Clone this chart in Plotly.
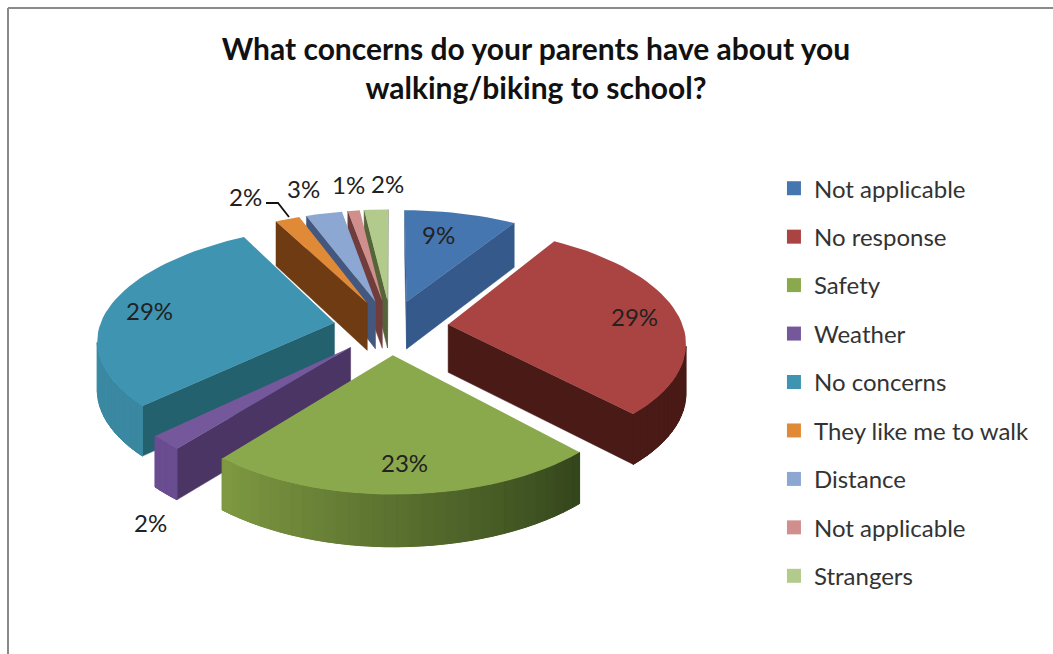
import math
import plotly.graph_objects as go

# Survey answers, in the order they run clockwise from twelve o'clock
categories = ["Not applicable", "No response", "Safety", "Weather", "No concerns",
              "They like me to walk", "Distance", "Not applicable", "Strangers"]
percent = [9, 29, 23, 2, 29, 2, 3, 1, 2]

title_lines = ["What concerns do your parents have about you", "walking/biking to school?"]

# Colours per slice: top face, rim at start angle, rim at end angle, cut faces
top_colors = ["#4676B0", "#A94442", "#8AA84C", "#75589B", "#3F95B1",
              "#E08A38", "#8CA7D2", "#D08E8D", "#B2CB8C"]
rim_end_colors = ["#34598A", "#4A1A16", "#33451B", "#6A4C90", "#3A87A0",
                  "#6E3B12", "#44587F", "#7A4848", "#5E6E3C"]
rim_start_colors = ["#34598A", "#4A1A16", "#7F9A42", "#6A4C90", "#3E90AA",
                    "#6E3B12", "#44587F", "#7A4848", "#5E6E3C"]
cut_colors = ["#34598A", "#4A1A16", "#4F6428", "#4B3565", "#24616F",
              "#6E3B12", "#44587F", "#703C3C", "#56643A"]

# Percent labels placed around the pie, in slice order
label_xy = [(438, 234), (634, 316), (404, 462), (150, 522), (149, 310),
            (245, 196), (303, 188), (348, 184), (387, 183)]

# Pie projection onto the page
CX, CY = 391, 327          # page position of the pie centre
SCALE_X, SCALE_Y = 235, 111
PERSPECTIVE = 0.141
SKEW = 6.0                 # pulls the left part of the near and far edges inward
EXPLODE = 0.245
THICKNESS = 48


def project(x, y):
    """Map a point on the pie plane (y grows toward the viewer) to the page."""
    w = 1 - PERSPECTIVE * y
    return CX + SCALE_X * x / w + SKEW * y * y * max(0.0, -x), CY + SCALE_Y * y / w


def drop(y):
    """Height of the pie edge on the page; nearer edges look slightly taller."""
    return THICKNESS * (1 + 0.07 * y)


def mix(a, b, t):
    ca = [int(a[i:i + 2], 16) for i in (1, 3, 5)]
    cb = [int(b[i:i + 2], 16) for i in (1, 3, 5)]
    return "#%02x%02x%02x" % tuple(round(p + (q - p) * t) for p, q in zip(ca, cb))


def polygon(xs, ys, color, seam=0.0):
    return go.Scatter(x=list(xs) + [xs[0]], y=list(ys) + [ys[0]], mode="lines", fill="toself",
                      fillcolor=color, line=dict(color=color, width=seam),
                      hoverinfo="skip", showlegend=False)


def slice_traces(start, end, top, rim_a, rim_b, cut):
    mid = (start + end) / 2
    ax, ay = EXPLODE * math.sin(mid), -EXPLODE * math.cos(mid)
    steps = max(4, int(math.degrees(end - start) / 2.5))
    angles = [start + (end - start) * i / steps for i in range(steps + 1)]
    rim = [(ax + math.sin(t), ay - math.cos(t)) for t in angles]
    apex = (ax, ay)

    traces = []

    def wall(p, q, color, seam):
        # The outline runs clockwise on the page, so right-to-left edges face the viewer
        (x1, y1), (x2, y2) = project(*p), project(*q)
        if x2 < x1:
            traces.append(polygon([x1, x2, x2, x1],
                                  [y1, y2, y2 + drop(q[1]), y1 + drop(p[1])], color, seam))

    wall(rim[-1], apex, cut, 0.5)
    wall(apex, rim[0], cut, 0.5)

    # Solid underlay for the rim so that the shaded strips leave no gaps between them
    front = []
    for p in rim:
        px, py = project(*p)
        front.append((px, py, py + drop(p[1])))
    visible = [k for k in range(steps) if front[k + 1][0] < front[k][0]]
    if visible:
        run = front[visible[0]:visible[-1] + 2]
        traces.append(polygon([f[0] for f in run] + [f[0] for f in reversed(run)],
                              [f[1] for f in run] + [f[2] for f in reversed(run)],
                              mix(rim_a, rim_b, 0.5), 0.5))
    for k in visible:
        color = mix(rim_a, rim_b, (steps - k - 0.5) / steps)
        wall(rim[k], rim[k + 1], color, 1.0)

    px, py = zip(*(project(*pt) for pt in [apex] + rim))
    traces.append(polygon(px, py, top))
    return traces


fig = go.Figure()

# Angular span of each slice, from the percentages
bounds = []
running = 0
for v in percent:
    a = running / sum(percent) * 2 * math.pi
    running += v
    bounds.append((a, running / sum(percent) * 2 * math.pi))

# Paint far slices first so that nearer ones sit over them
order = sorted(range(len(percent)),
               key=lambda i: -EXPLODE * math.cos(sum(bounds[i]) / 2))
for i in order:
    a, b = bounds[i]
    for tr in slice_traces(a, b, top_colors[i], rim_start_colors[i], rim_end_colors[i], cut_colors[i]):
        fig.add_trace(tr)

# Leader line from the small orange slice to its label
fig.add_trace(go.Scatter(x=[266, 278, 289], y=[203, 203, 217], mode="lines",
                         line=dict(color="#111111", width=1.8), hoverinfo="skip", showlegend=False))

# Legend entries
for i, name in enumerate(categories):
    fig.add_trace(go.Scatter(x=[None], y=[None], mode="markers", name=name,
                             legendgroup=f"g{i}",
                             marker=dict(symbol="square", size=14, color=top_colors[i])))

FONT = "Lato, Carlito, Calibri, sans-serif"
annotations = [dict(x=x, y=y, xref="x", yref="y", text=f"{v}%", showarrow=False,
                    font=dict(family=FONT, size=24, color="#222222"))
               for (x, y), v in zip(label_xy, percent)]

fig.update_layout(
    width=1053, height=654,
    margin=dict(l=0, r=0, t=0, b=0),
    paper_bgcolor="white", plot_bgcolor="white",
    xaxis=dict(range=[0, 1053], visible=False, fixedrange=True),
    yaxis=dict(range=[654, 0], visible=False, fixedrange=True),
    title=dict(text="<br>".join(title_lines), x=0.509, xanchor="center", y=0.908, yanchor="middle",
               font=dict(family=FONT, size=30, color="#111111", weight="bold")),
    legend=dict(x=0.735, xanchor="left", y=0.746, yanchor="top", tracegroupgap=14.25,
                font=dict(family=FONT, size=24, color="#333333"), bgcolor="rgba(0,0,0,0)"),
    annotations=annotations,
    shapes=[
        dict(type="line", xref="x", yref="y", x0=8, x1=1053, y0=8, y1=8,
             line=dict(color="#8A8A8A", width=2)),
        dict(type="line", xref="x", yref="y", x0=8, x1=8, y0=8, y1=654,
             line=dict(color="#8A8A8A", width=2)),
    ],
)

fig.write_html("out.html", config=dict(displayModeBar=False))
